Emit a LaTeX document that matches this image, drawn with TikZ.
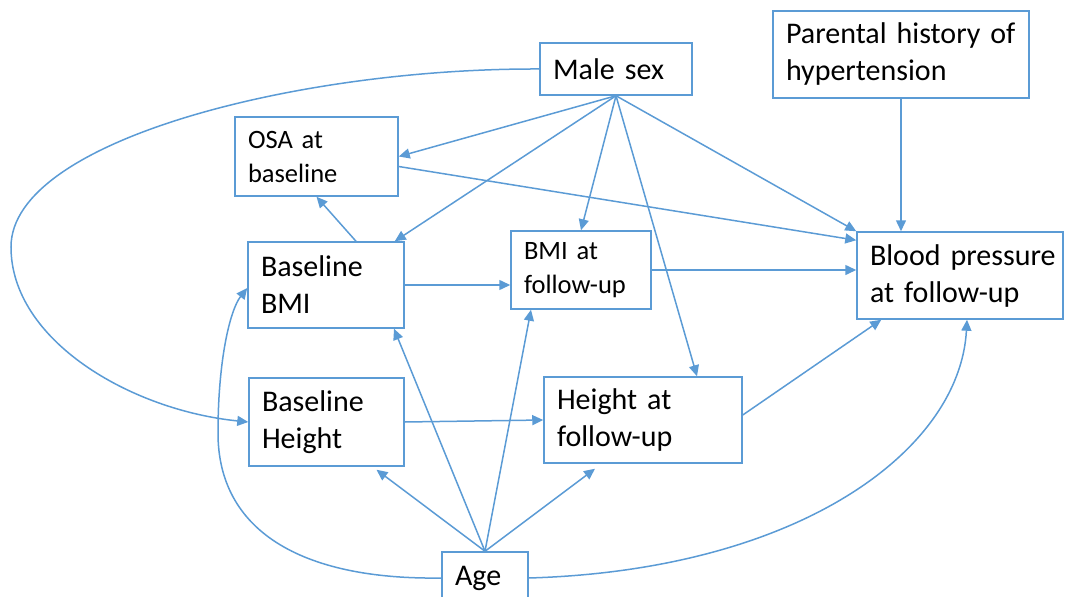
\documentclass[tikz,border=0pt]{standalone}
\usepackage{fontspec}
\setmainfont{Carlito}
\usetikzlibrary{arrows.meta,calc}
\definecolor{edgeblue}{RGB}{91,155,213}
\tikzset{
  box/.style={draw=edgeblue, line width=1.5pt, align=left, inner ysep=0pt, inner xsep=13pt, anchor=center},
  big/.style={font=\fontsize{30}{37}\selectfont},
  small/.style={font=\fontsize{26.5}{34}\selectfont},
  arr/.style={draw=edgeblue, line width=1.5pt, -{Triangle[length=11pt,width=10pt]}},
}
\begin{document}
\begin{tikzpicture}[x=1pt,y=-1pt]
\useasboundingbox (0,0) rectangle (1066,597);

\node[box, big, text width=126pt, minimum height=52pt] (male) at (616,69) {Male sex};
\node[box, big, text width=230pt, minimum height=87pt] (parent) at (901,54.5) {\mbox{Parental history of}\\hypertension};
\node[box, small, text width=137pt, minimum height=79pt] (osa) at (316.5,156.5) {OSA at\\baseline};
\node[box, big, text width=130pt, minimum height=86pt] (bbmi) at (326,285) {Baseline\\BMI};
\node[box, small, text width=114pt, minimum height=78pt] (bmifu) at (581,270) {BMI at\\follow-up};
\node[box, big, text width=180pt, minimum height=87pt] (bp) at (960,275.5) {\mbox{Blood pressure}\\at follow-up};
\node[box, big, text width=129pt, minimum height=88pt] (bht) at (326.5,422) {Baseline\\Height};
\node[box, big, text width=172pt, minimum height=86pt] (htfu) at (643,420) {Height at\\follow-up};
\node[box, big, text width=60pt, minimum height=52pt] (age) at (485,578) {Age};

% from Male sex
\draw[arr] (male.south) -- (osa.east);
\draw[arr] (male.south) -- ([xshift=-10pt]bbmi.north east);
\draw[arr] (male.south) -- (bmifu.north);
\draw[arr] (male.south) -- ([xshift=54pt]htfu.north);
\draw[arr] (male.south) -- (bp.north west);
\draw[arr] (male.west) .. controls (300,68) and (11,140) .. (11,247)
  .. controls (11,340) and (130,410) .. (bht.west);

% parental history
\draw[arr] (parent.south) -- (parent.south |- bp.north);

% OSA
\draw[arr] ([yshift=-10pt]osa.east) -- ([yshift=-9pt]bp.north west);

% BMI
\draw[arr] ([xshift=30pt]bbmi.north) -- (osa.south);
\draw[arr] (bbmi.east) -- (bmifu.west |- bbmi.east);
\draw[arr] (bmifu.east) -- (bp.west |- bmifu.east);

% Height
\draw[arr] (bht.east) -- (htfu.west);
\draw[arr] ([yshift=5pt]htfu.east) -- ([xshift=25pt]bp.south west);

% Age
\draw[arr] (age.north) -- ([xshift=50pt,yshift=-3pt]bht.south);
\draw[arr] (age.north) -- ([xshift=68pt]bbmi.south);
\draw[arr] (age.north) -- ([xshift=-50pt]bmifu.south);
\draw[arr] (age.north) -- ([xshift=-48pt,yshift=-5pt]htfu.south);
\draw[arr] (age.east) .. controls (800,570) and (960,450) .. ([xshift=7pt]bp.south);
\draw[arr] (age.west) .. controls (300,580) and (218,530) .. (218,433)
  .. controls (218,360) and (230,310) .. ([yshift=-3pt]bbmi.west);
\end{tikzpicture}
\end{document}
